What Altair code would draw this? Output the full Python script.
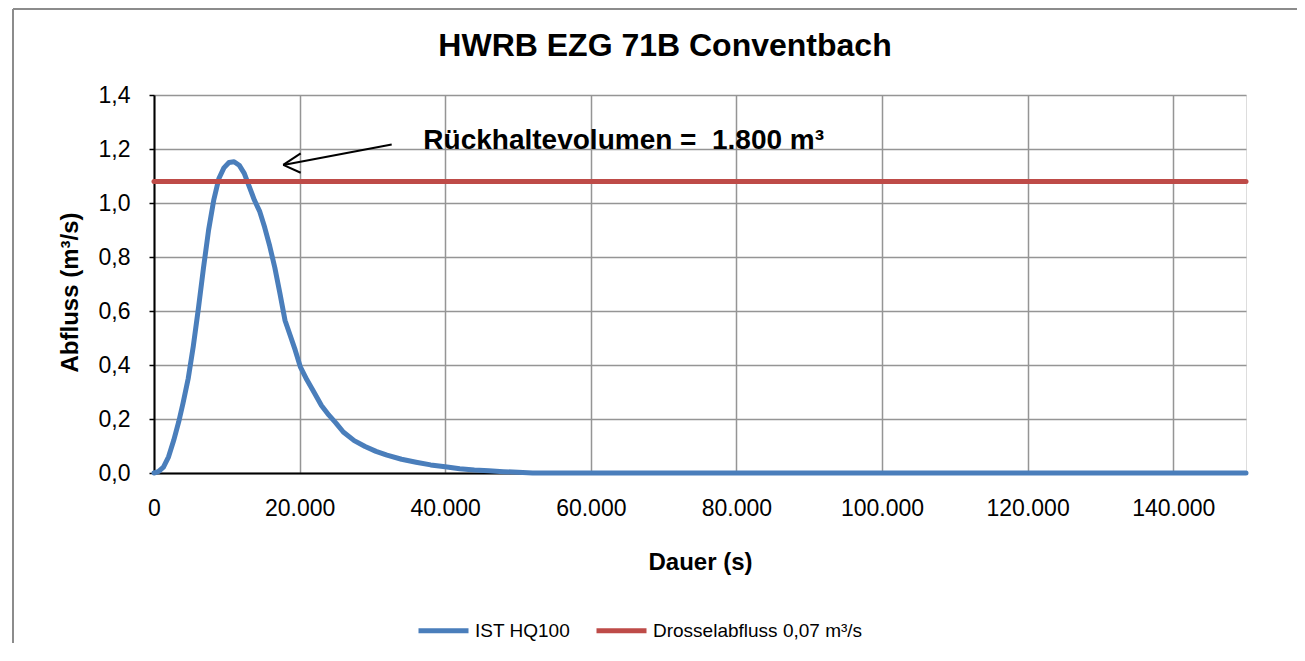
import altair as alt
import pandas as pd

# ---- data -------------------------------------------------------------
hq_t = [0, 600, 1300, 2000, 2700, 3400, 4000, 4700, 5400, 6100, 6800, 7500,
        8200, 8900, 9600, 10300, 11000, 11700, 12400, 13100, 13800, 14500,
        15200, 15900, 16600, 17300, 18000, 18700, 19400, 20100, 21000, 22000,
        23000, 24000, 25000, 26000, 27500, 29000, 30500, 32000, 34000, 36000,
        38000, 40000, 42000, 44000, 46000, 48000, 50000, 52000, 150000]
hq_q = [0.0, 0.005, 0.022, 0.06, 0.12, 0.19, 0.26, 0.35, 0.47, 0.61, 0.76, 0.90,
        1.01, 1.09, 1.13, 1.15, 1.153, 1.14, 1.11, 1.06, 1.01, 0.97,
        0.91, 0.84, 0.76, 0.665, 0.565, 0.51, 0.455, 0.393, 0.345, 0.298,
        0.25, 0.215, 0.185, 0.152, 0.12, 0.098, 0.08, 0.066, 0.051, 0.04,
        0.03, 0.023, 0.016, 0.011, 0.008, 0.005, 0.003, 0.0, 0.0]

drossel_t = [0, 150000]
drossel_q = [1.08, 1.08]

series_names = ["IST HQ100", "Drosselabfluss 0,07 m³/s"]
series_colors = ["#4a7ebb", "#be4b48"]

x_ticks = [0, 20000, 40000, 60000, 80000, 100000, 120000, 140000]
y_ticks = [0.0, 0.2, 0.4, 0.6, 0.8, 1.0, 1.2, 1.4]

title_text = "HWRB EZG 71B Conventbach"
annot_text = "Rückhaltevolumen = \u00a01.800 m³"
annot_t = [37000]
annot_q = [1.2]

# arrow: shaft + two head strokes (data coordinates)
arrow_t = [32650, 17750, 17750]
arrow_q = [1.217, 1.141, 1.141]
arrow_t2 = [17750, 20150, 20150]
arrow_q2 = [1.141, 1.184, 1.112]

FONT = "Liberation Sans"

# ---- tables -----------------------------------------------------------
lines_df = pd.concat([
    pd.DataFrame({"t": hq_t, "q": hq_q, "serie": series_names[0], "o": 0}),
    pd.DataFrame({"t": drossel_t, "q": drossel_q, "serie": series_names[1], "o": 1}),
], ignore_index=True)
annot_df = pd.DataFrame({"t": annot_t, "q": annot_q, "label": [annot_text]})
arrow_df = pd.DataFrame({"t": arrow_t, "q": arrow_q, "t2": arrow_t2, "q2": arrow_q2})
title_df = pd.DataFrame({"label": [title_text]})

x_scale = alt.Scale(domain=[0, 150000], nice=False, zero=False)
y_scale = alt.Scale(domain=[0, 1.4], nice=False)

x_axis = alt.Axis(
    title="Dauer (s)", values=x_ticks,
    labelExpr="replace(format(datum.value, ',.0f'), ',', '.')",
    grid=True, gridColor="#959595", gridWidth=1.5,
    tickSize=0, labelPadding=24, labelFontSize=23, labelFont=FONT, labelColor="black",
    labelFlush=False,
    domainColor="black", domainWidth=2,
    titleFont=FONT, titleFontSize=24, titleFontWeight="bold", titleColor="black",
    titlePadding=30,
)
y_axis = alt.Axis(
    title="Abfluss (m³/s)", values=y_ticks,
    labelExpr="replace(format(datum.value, '.1f'), '.', ',')",
    grid=True, gridColor="#959595", gridWidth=1.5,
    tickSize=5, tickColor="black", tickWidth=1.5, labelPadding=19,
    labelFontSize=23, labelFont=FONT, labelColor="black", labelFlush=False,
    domainColor="black", domainWidth=2,
    titleFont=FONT, titleFontSize=24, titleFontWeight="bold", titleColor="black",
    titleX=-84, titleY=197, titleBaseline="middle",
)

lines = alt.Chart(lines_df).mark_line(strokeWidth=5, strokeCap="round", strokeJoin="round").encode(
    x=alt.X("t:Q", scale=x_scale, axis=x_axis),
    y=alt.Y("q:Q", scale=y_scale, axis=y_axis),
    color=alt.Color(
        "serie:N",
        scale=alt.Scale(domain=series_names, range=series_colors),
        legend=alt.Legend(
            title=None, orient="none", legendX=262, legendY=508,
            direction="horizontal", symbolType="stroke", symbolSize=2500,
            symbolStrokeWidth=5, labelFontSize=19, labelFont=FONT,
            labelColor="black", labelOffset=4, columnPadding=15, padding=0,
            labelLimit=0,
        ),
    ),
    order="o:Q",
)

annot = alt.Chart(annot_df).mark_text(
    align="left", baseline="alphabetic", font=FONT, fontSize=28,
    fontWeight="bold", color="black",
).encode(x="t:Q", y="q:Q", text="label:N")

arrow = alt.Chart(arrow_df).mark_rule(color="black", strokeWidth=2).encode(
    x="t:Q", y="q:Q", x2="t2:Q", y2="q2:Q"
)

title = alt.Chart(title_df).mark_text(
    align="center", baseline="alphabetic", font=FONT, fontSize=32,
    fontWeight="bold", color="black",
).encode(x=alt.value(511), y=alt.value(-39), text="label:N")

border_left = alt.Chart(pd.DataFrame({"k": [0]})).mark_rule(color="#8c8c8c", strokeWidth=2).encode(
    x=alt.value(-141), y=alt.value(-86), y2=alt.value(560)
)
border_top = alt.Chart(pd.DataFrame({"k": [0]})).mark_rule(color="#8c8c8c", strokeWidth=2).encode(
    x=alt.value(-141), x2=alt.value(1147), y=alt.value(-86)
)

chart = alt.layer(border_left, border_top, lines, arrow, annot, title).properties(
    width=1092, height=378,
    autosize=alt.AutoSizeParams(type="none"),
    padding={"left": 146, "top": 87, "right": 51, "bottom": 170},
).configure_view(
    stroke="black", strokeWidth=2
).configure(background="white")

chart.save("out.html", embed_options={"renderer": "svg", "actions": False})
